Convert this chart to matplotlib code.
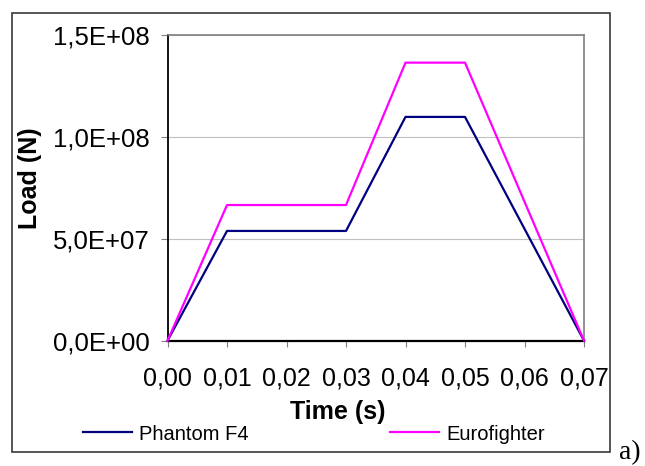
import matplotlib

matplotlib.use("Agg")
import matplotlib.pyplot as plt
from matplotlib.patches import Rectangle
from matplotlib.ticker import FuncFormatter, MultipleLocator

plt.rcParams["font.family"] = ["Liberation Sans", "DejaVu Sans"]

# load curves
time_s = [0.00, 0.01, 0.03, 0.04, 0.05, 0.07]
phantom_f4 = [0.0, 5.38e7, 5.38e7, 1.097e8, 1.097e8, 0.0]
eurofighter = [0.0, 6.65e7, 6.65e7, 1.363e8, 1.363e8, 0.0]
series_names = ["Phantom F4", "Eurofighter"]

NAVY = "#000080"
MAGENTA = "#ff00ff"
GRID = "#c0c0c0"
GRAY = "#808080"

W, H = 645, 466
fig = plt.figure(figsize=(W / 100, H / 100), dpi=100)
fig.patch.set_facecolor("white")

ax = fig.add_axes([167.5 / W, 1 - 340.7 / H, (584 - 167.5) / W, (340.7 - 34.7) / H])
ax.plot(time_s, phantom_f4, color=NAVY, linewidth=1.6, label=series_names[0], clip_on=False, zorder=3)
ax.plot(time_s, eurofighter, color=MAGENTA, linewidth=1.6, label=series_names[1], clip_on=False, zorder=3)

ax.set_xlim(0, 0.07)
ax.set_ylim(0, 1.5e8)
ax.xaxis.set_major_locator(MultipleLocator(0.01))
ax.yaxis.set_major_locator(MultipleLocator(5e7))
ax.xaxis.set_major_formatter(FuncFormatter(lambda v, p: f"{v:.2f}".replace(".", ",")))
ax.yaxis.set_major_formatter(FuncFormatter(lambda v, p: f"{v:.1E}".replace(".", ",")))

ax.grid(True, axis="y", color=GRID, linewidth=0.8)
ax.set_axisbelow(True)
ax.tick_params(axis="y", direction="out", length=5, width=0.8, color=GRAY, pad=8, labelsize=18.5)
ax.tick_params(axis="x", direction="out", length=4.5, width=0.8, color=GRAY, pad=14, labelsize=18)

ax.spines["left"].set_color("black")
ax.spines["left"].set_linewidth(1.3)
ax.spines["bottom"].set_color("black")
ax.spines["bottom"].set_linewidth(1.6)
for side in ("top", "right"):
    ax.spines[side].set_color(GRAY)
    ax.spines[side].set_linewidth(1.2)

ax.set_xlabel("Time (s)", fontsize=18, fontweight="bold", va="top")
ax.xaxis.set_label_coords(0.409, -0.194)
ax.set_ylabel("Load (N)", fontsize=18, fontweight="bold")
ax.yaxis.set_label_coords(-0.301, 0.53)

handles, labels = ax.get_legend_handles_labels()
fig.legend(
    handles,
    labels,
    loc="center left",
    bbox_to_anchor=(83 / W, 1 - 434 / H),
    ncol=2,
    frameon=False,
    fontsize=14.5,
    handlelength=2.44,
    handletextpad=0.35,
    columnspacing=7.0,
    borderpad=0,
    borderaxespad=0,
)

# outer chart border
fig.patches.append(
    Rectangle(
        (12.3 / W, 1 - 452.3 / H),
        (610 - 12.3) / W,
        (452.3 - 13.3) / H,
        transform=fig.transFigure,
        fill=False,
        edgecolor="#3a3a3a",
        linewidth=1.2,
    )
)

fig.text(619 / W, 1 - 459 / H, "a)", family=["Liberation Serif", "DejaVu Serif"], fontsize=20, va="baseline")

fig.savefig("out.png", dpi=100, facecolor="white")
